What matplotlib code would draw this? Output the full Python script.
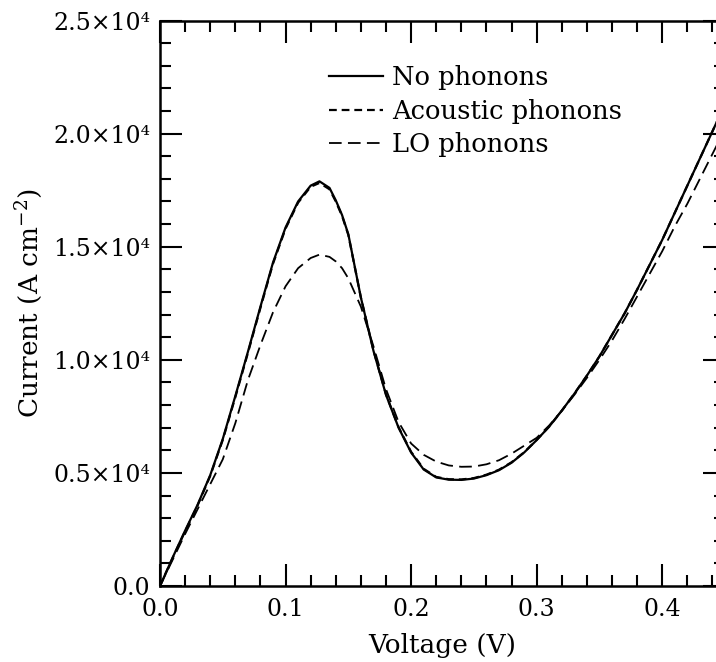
import numpy as np
import matplotlib
matplotlib.use('Agg')
import matplotlib.pyplot as plt
from matplotlib.ticker import MultipleLocator, FixedLocator

# data
voltage = [0.00, 0.01, 0.02, 0.03, 0.04, 0.05, 0.06, 0.07, 0.08, 0.09,
           0.10, 0.11, 0.12, 0.127, 0.135, 0.14, 0.145, 0.15, 0.16, 0.17, 0.18,
           0.19, 0.20, 0.21, 0.22, 0.23, 0.24, 0.25, 0.26, 0.27, 0.28,
           0.29, 0.30, 0.31, 0.32, 0.33, 0.34, 0.35, 0.36, 0.37, 0.38,
           0.39, 0.40, 0.41, 0.42, 0.43, 0.44, 0.45]
no_phonons = [0, 1250, 2450, 3600, 4900, 6500, 8400, 10350, 12350, 14300,
              15850, 17000, 17700, 17890, 17600, 17050, 16400, 15550, 12750, 10400, 8450,
              7000, 5900, 5150, 4800, 4700, 4690, 4750, 4900, 5120, 5450,
              5900, 6450, 7050, 7750, 8500, 9300, 10150, 11100, 12050, 13100,
              14200, 15300, 16500, 17700, 18900, 20100, 21300]
acoustic = [0, 1230, 2420, 3570, 4870, 6460, 8350, 10300, 12300, 14250,
            15800, 16950, 17650, 17820, 17540, 17000, 16360, 15520, 12750, 10420, 8470,
            7020, 5930, 5180, 4820, 4720, 4710, 4770, 4920, 5140, 5470,
            5910, 6460, 7050, 7750, 8500, 9300, 10150, 11100, 12050, 13100,
            14200, 15300, 16500, 17700, 18900, 20100, 21300]
lo_phonons = [0, 1150, 2300, 3400, 4500, 5600, 7200, 9100, 10650, 12100,
              13250, 14050, 14500, 14650, 14550, 14350, 14050, 13600, 12350, 10600, 8700,
              7250, 6300, 5800, 5500, 5330, 5270, 5280, 5380, 5560, 5850,
              6200, 6550, 7100, 7750, 8450, 9200, 10000, 10850, 11800, 12800,
              13800, 14800, 15900, 16900, 18000, 19100, 20200]

labels = ['No phonons', 'Acoustic phonons', 'LO phonons']
ytick_vals = [0, 5000, 10000, 15000, 20000, 25000]
ytick_labels = ['0.0', '0.5×10⁴', '1.0×10⁴', '1.5×10⁴', '2.0×10⁴', '2.5×10⁴']
xtick_vals = [0.0, 0.1, 0.2, 0.3, 0.4]
xtick_labels = ['0.0', '0.1', '0.2', '0.3', '0.4']

plt.rcParams['font.family'] = ['DejaVu Serif']
plt.rcParams['mathtext.fontset'] = 'dejavuserif'

fig = plt.figure(figsize=(7.16, 6.62), dpi=100)
# axes run slightly past the right edge, as in the cropped reference
ax = fig.add_axes([160 / 716, 76 / 662, 565 / 716, 565.5 / 662])

ax.plot(voltage, no_phonons, color='black', lw=1.6, linestyle='-', label=labels[0])
ax.plot(voltage, acoustic, color='black', lw=1.6, linestyle=(0, (3.5, 2.2)), label=labels[1])
ax.plot(voltage, lo_phonons, color='black', lw=1.3, linestyle=(0, (7, 3.5)), label=labels[2])

ax.set_xlim(0, 0.45)
ax.set_ylim(0, 25000)

ax.xaxis.set_major_locator(FixedLocator(xtick_vals))
ax.set_xticklabels(xtick_labels)
ax.xaxis.set_minor_locator(MultipleLocator(0.02))
ax.yaxis.set_major_locator(FixedLocator(ytick_vals))
ax.set_yticklabels(ytick_labels)
ax.yaxis.set_minor_locator(MultipleLocator(1000))

ax.tick_params(which='both', direction='in', top=True, right=True, width=1.5,
               labelsize=17)
ax.tick_params(which='major', length=16)
ax.tick_params(which='minor', length=8)
ax.tick_params(axis='x', which='major', pad=9)
ax.tick_params(axis='y', which='major', pad=7)
for s in ax.spines.values():
    s.set_linewidth(1.8)

ax.set_xlabel('Voltage (V)', fontsize=19, labelpad=8)
ax.set_ylabel('Current (A cm$^{-2}$)', fontsize=19, labelpad=6)

ax.legend(loc='upper left', bbox_to_anchor=(0.299, 0.921), frameon=False,
          fontsize=18.5, handlelength=2.1, handletextpad=0.35, labelspacing=0.33,
          borderaxespad=0, borderpad=0)

fig.savefig('out.png', dpi=100)
